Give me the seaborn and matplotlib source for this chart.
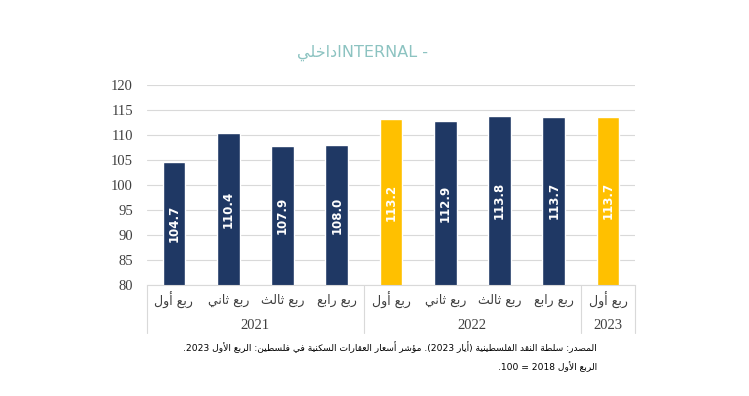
import re
import numpy as np
import pandas as pd
import seaborn as sns
import matplotlib.pyplot as plt

# data
quarters = ['ربع أول', 'ربع ثاني', 'ربع ثالث', 'ربع رابع',
            'ربع أول', 'ربع ثاني', 'ربع ثالث', 'ربع رابع',
            'ربع أول']
years = ['2021', '2022', '2023']
year_sizes = [4, 4, 1]
values = [104.7, 110.4, 107.9, 108.0, 113.2, 112.9, 113.8, 113.7, 113.7]
highlight = [False, False, False, False, True, False, False, False, True]
title_ar = 'داخلي'
title_en = 'INTERNAL -'
note1 = 'المصدر: سلطة النقد الفلسطينية (أيار 2023). مؤشر أسعار العقارات السكنية في فلسطين: الربع الأول 2023.'
note2 = 'الربع الأول 2018 = 100.'

NAVY = '#1F3864'
GOLD = '#FFC000'

# minimal arabic shaping (no arabic_reshaper available)
FORMS = {
    'ا': ('\uFE8D', '\uFE8E'), 'أ': ('\uFE83', '\uFE84'),
    'د': ('\uFEA9', '\uFEAA'), 'ر': ('\uFEAD', '\uFEAE'),
    'و': ('\uFEED', '\uFEEE'), 'ؤ': ('\uFE85', '\uFE86'),
    'ة': ('\uFE93', '\uFE94'),
    'ب': ('\uFE8F', '\uFE90', '\uFE91', '\uFE92'),
    'ت': ('\uFE95', '\uFE96', '\uFE97', '\uFE98'),
    'ث': ('\uFE99', '\uFE9A', '\uFE9B', '\uFE9C'),
    'خ': ('\uFEA5', '\uFEA6', '\uFEA7', '\uFEA8'),
    'س': ('\uFEB1', '\uFEB2', '\uFEB3', '\uFEB4'),
    'ش': ('\uFEB5', '\uFEB6', '\uFEB7', '\uFEB8'),
    'ص': ('\uFEB9', '\uFEBA', '\uFEBB', '\uFEBC'),
    'ط': ('\uFEC1', '\uFEC2', '\uFEC3', '\uFEC4'),
    'ع': ('\uFEC9', '\uFECA', '\uFECB', '\uFECC'),
    'ف': ('\uFED1', '\uFED2', '\uFED3', '\uFED4'),
    'ق': ('\uFED5', '\uFED6', '\uFED7', '\uFED8'),
    'ك': ('\uFED9', '\uFEDA', '\uFEDB', '\uFEDC'),
    'ل': ('\uFEDD', '\uFEDE', '\uFEDF', '\uFEE0'),
    'م': ('\uFEE1', '\uFEE2', '\uFEE3', '\uFEE4'),
    'ن': ('\uFEE5', '\uFEE6', '\uFEE7', '\uFEE8'),
    'ي': ('\uFEF1', '\uFEF2', '\uFEF3', '\uFEF4'),
}
LAM_ALEF = {'ا': ('\uFEFB', '\uFEFC'), 'أ': ('\uFEF7', '\uFEF8')}


def shape(s):
    units = []
    i = 0
    while i < len(s):
        c = s[i]
        if c == 'ل' and i + 1 < len(s) and s[i + 1] in LAM_ALEF:
            units.append(LAM_ALEF[s[i + 1]])
            i += 2
        elif c in FORMS:
            units.append(FORMS[c])
            i += 1
        else:
            units.append(c)
            i += 1
    out = []
    for k, u in enumerate(units):
        if isinstance(u, str):
            out.append(u)
            continue
        prev = units[k - 1] if k > 0 else None
        nxt = units[k + 1] if k + 1 < len(units) else None
        jp = isinstance(prev, tuple) and len(prev) == 4
        jn = len(u) == 4 and isinstance(nxt, tuple)
        if len(u) == 2:
            out.append(u[1] if jp else u[0])
        else:
            out.append(u[3] if jp and jn else u[1] if jp else u[2] if jn else u[0])
    return ''.join(out)


def rtl(s):
    r = shape(s)[::-1]
    r = re.sub(r'[0-9]+', lambda m: m.group(0)[::-1], r)
    return r.translate(str.maketrans('()', ')('))


df = pd.DataFrame({'pos': [str(i) for i in range(len(values))],
                   'value': values,
                   'hl': highlight})

sns.set_style('white')
plt.rcParams['font.family'] = ['Liberation Serif', 'DejaVu Sans']

fig = plt.figure(figsize=(7.49, 3.96), dpi=100)
ax = fig.add_axes([0.196, 0.280, 0.652, 0.505])

sns.barplot(data=df, x='pos', y='value', hue='hl', dodge=False, saturation=1,
            palette={True: GOLD, False: NAVY}, width=0.42, legend=False, ax=ax)

ax.set_ylim(80, 120)
ax.set_yticks(np.arange(80, 121, 5))
ax.set_xlim(-0.5, len(values) - 0.5)
ax.grid(axis='y', color='#D9D9D9', linewidth=0.8)
ax.set_axisbelow(True)
for s in ['left', 'right', 'top']:
    ax.spines[s].set_visible(False)
ax.spines['bottom'].set_color('#D9D9D9')
ax.tick_params(axis='y', length=0, labelsize=10.5, labelcolor='#404040', pad=10)
ax.set_xticks([])
ax.set_xlabel('')
ax.set_ylabel('')

# value labels inside bars
for i, v in enumerate(values):
    ax.text(i, (80 + v) / 2, f'{v:.1f}', rotation=90, ha='center', va='center',
            color='white', fontsize=8.5, fontweight='bold', family='DejaVu Sans')

# two level category axis
trans = ax.get_xaxis_transform()
for i, q in enumerate(quarters):
    ax.text(i, -0.075, rtl(q), transform=trans, ha='center', va='center',
            fontsize=9, color='#404040', family='DejaVu Sans')
start = 0
bounds = [-0.5]
for y, n in zip(years, year_sizes):
    ax.text(start + (n - 1) / 2, -0.2, y, transform=trans, ha='center', va='center',
            fontsize=10.5, color='#404040')
    start += n
    bounds.append(start - 0.5)
for b in bounds:
    ax.plot([b, b], [0, -0.24], transform=trans, color='#D9D9D9',
            linewidth=0.8, clip_on=False)

fig.text(0.484, 0.866, rtl(title_ar) + title_en, ha='center', va='center',
         fontsize=11.5, color='#8CC3C1', family='DejaVu Sans')

fig.text(0.797, 0.124, rtl(note1), ha='right', va='center', fontsize=6.6,
         color='black', family='DejaVu Sans')
fig.text(0.797, 0.073, rtl(note2), ha='right', va='center', fontsize=6.6,
         color='black', family='DejaVu Sans')

fig.savefig('out.png', dpi=100)
